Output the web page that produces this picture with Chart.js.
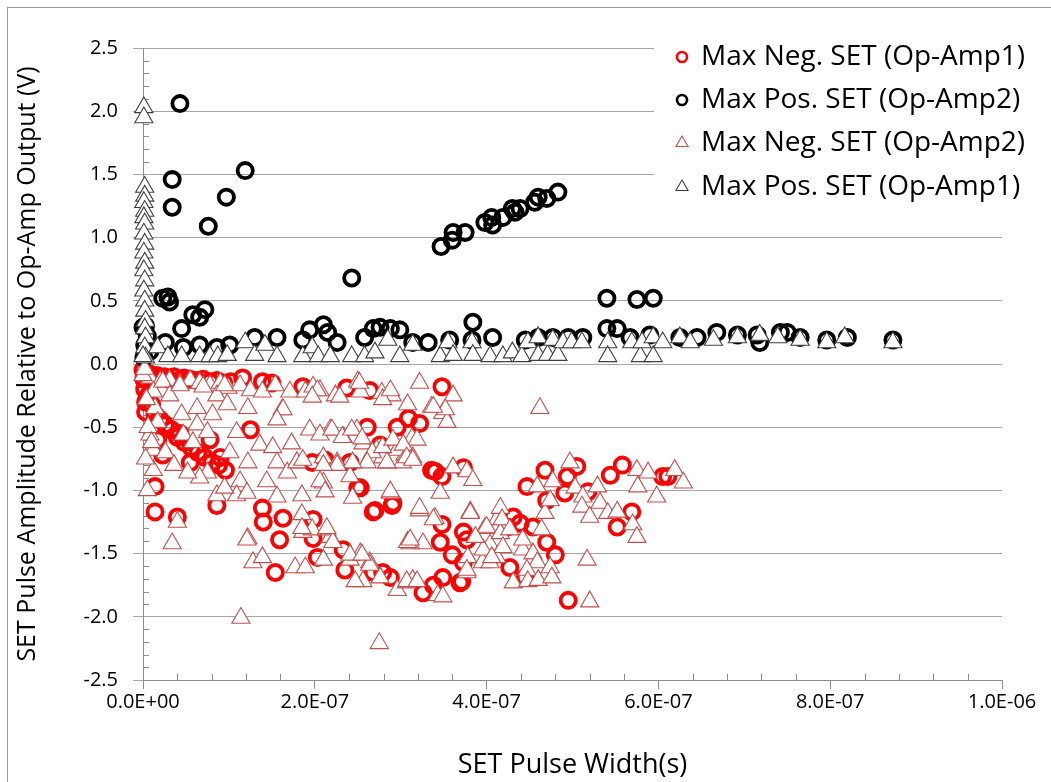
<!DOCTYPE html>
<html>
<head>
<meta charset="utf-8">
<script src="https://cdn.jsdelivr.net/npm/chart.js@4.4.1/dist/chart.umd.min.js"></script>
<style>
  html, body { margin: 0; padding: 0; background: #fff; }
  #wrap { position: relative; width: 1051px; height: 782px; overflow: hidden; }
</style>
</head>
<body>
<div id="wrap"><canvas id="setChart" width="1051" height="782"></canvas></div>
<script>
// Valores (x en ns, y en V)
const negAmp1X = [0, 1, 2, 3, 5, 8, 12, 16, 20, 25, 30, 36, 42, 48, 55, 62, 70, 78, 86, 94, 102,
  3, 6, 10, 14, 20, 26, 33, 40, 48, 56, 64, 72, 80, 88, 96,
  14, 14, 40, 17, 23, 86, 139, 140, 159, 163, 125, 55, 78, 90, 116, 139, 150, 186, 43,
  237, 264, 154, 198, 198, 203, 233, 235, 253, 268, 291, 261, 296, 309, 322, 279, 288, 326, 336, 197, 212, 241,
  348, 276, 348, 373, 250, 270, 290, 338, 349, 369, 348, 346, 360, 373, 377, 373, 268,
  340, 371, 427, 445, 480, 470, 431, 424, 447, 468, 494, 505, 491, 470, 518, 544, 558, 569, 552, 605, 611, 495, 454, 439];
const negAmp1Y = [-0.05, -0.12, -0.2, -0.3, -0.1, -0.08, -0.12, -0.09, -0.11, -0.1, -0.12, -0.1, -0.13, -0.11, -0.12, -0.13, -0.12, -0.14, -0.13, -0.15, -0.14,
  -0.38, -0.25, -0.32, -0.4, -0.44, -0.48, -0.52, -0.58, -0.62, -0.66, -0.7, -0.74, -0.78, -0.8, -0.84,
  -0.97, -1.17, -1.21, -0.6, -0.72, -1.12, -1.14, -1.25, -1.39, -1.22, -0.52, -0.78, -0.6, -0.74, -0.11, -0.14, -0.15, -0.18, -0.55,
  -0.19, -0.21, -1.65, -1.23, -1.38, -1.53, -1.47, -1.63, -0.98, -1.17, -1.1, -0.5, -0.5, -0.43, -0.47, -1.65, -1.69, -1.81, -0.84, -0.78, -0.76, -0.78,
  -0.18, -0.64, -0.89, -0.82, -0.98, -1.16, -1.12, -1.75, -1.69, -1.73, -1.27, -1.41, -1.51, -1.33, -1.39, -1.57, -1.65,
  -0.85, -1.72, -1.61, -1.69, -1.51, -1.41, -1.21, -1.29, -0.97, -0.84, -0.89, -0.81, -1.02, -1.08, -1.01, -0.88, -0.8, -1.17, -1.29, -0.89, -0.89, -1.87, -1.29, -1.26];

const posAmp2X = [43, 34, 34, 76, 97, 119, 347, 360, 361, 375, 398, 406, 407, 419, 430, 433, 439, 456, 460, 470, 483,
  540, 575, 594, 384, 243, 23, 29, 31, 58, 66, 72, 45, 26, 47, 66, 86, 101, 130, 156, 186, 194, 210, 215, 226,
  258, 268, 276, 288, 299, 314, 332, 357, 383, 407, 445, 460, 477, 495, 512, 540, 552, 567, 590, 625, 645,
  668, 692, 715, 718, 742, 750, 765, 796, 820, 873, 3, 5, 2, 8, 1, 0];
const posAmp2Y = [2.06, 1.46, 1.24, 1.09, 1.32, 1.53, 0.93, 0.98, 1.04, 1.04, 1.12, 1.16, 1.1, 1.16, 1.23, 1.2, 1.23, 1.28, 1.32, 1.31, 1.36,
  0.52, 0.51, 0.52, 0.33, 0.68, 0.52, 0.53, 0.49, 0.39, 0.37, 0.43, 0.28, 0.17, 0.13, 0.15, 0.13, 0.15, 0.21, 0.21, 0.19, 0.27, 0.31, 0.25, 0.17,
  0.21, 0.28, 0.29, 0.28, 0.27, 0.17, 0.17, 0.19, 0.19, 0.21, 0.19, 0.21, 0.21, 0.21, 0.21, 0.28, 0.28, 0.21, 0.23, 0.21, 0.21,
  0.25, 0.23, 0.23, 0.17, 0.25, 0.25, 0.21, 0.19, 0.21, 0.19, 0.3, 0.22, 0.15, 0.1, 0.05, 0.29];

const negAmp2X = [8, 20, 31, 43, 55, 66, 78, 90, 99, 113, 125, 139, 154, 171, 189, 206, 224, 198, 250, 253, 278, 290, 322, 361,
  336, 349, 354, 308, 352, 338, 313, 462, 203, 197, 229, 279, 288, 252,
  0, 12, 14, 17, 8, 12, 12, 23, 31, 43, 45, 47, 63, 63, 70, 75, 81, 86, 95, 98, 101, 109, 122, 122, 136, 151, 156, 162, 173, 179,
  185, 168, 113, 109, 86, 95, 121, 40, 34, 122, 75, 156, 144, 66, 185, 186,
  121, 128, 139, 177, 114, 275, 210, 218, 214, 197, 241, 253, 264, 276, 296, 307, 314, 326, 311, 322, 288, 305, 284, 272, 241, 226, 210,
  194, 218, 233, 249, 179, 163, 156, 210, 186, 256, 264, 279, 296, 302, 314, 319,
  206, 220, 232, 243, 255, 267, 279, 291, 303, 307, 314, 284, 261, 244, 226, 210, 206, 212, 244, 288, 322, 340, 308, 346, 361, 377, 384,
  381, 398, 412, 404, 395, 412, 378, 377, 343, 307, 319, 256, 247, 264, 241, 255, 221, 214, 185, 189,
  338, 311, 381, 400, 416, 416, 396, 404, 419, 442, 454, 459, 447, 474, 431, 448, 460, 476, 464, 468, 474, 459, 477, 497, 503, 512,
  529, 532, 511, 520, 541, 552, 570, 575, 575, 588, 576, 598, 619, 629, 517, 520, 349, 377, 406, 387, 418, 427, 442,
  2, 4, 6, 10, 3, 5, 26, 36, 52, 58];
const negAmp2Y = [-0.11, -0.14, -0.13, -0.16, -0.13, -0.15, -0.17, -0.15, -0.19, -0.17, -0.21, -0.22, -0.17, -0.22, -0.22, -0.21, -0.25, -0.18, -0.14, -0.22, -0.23, -0.25, -0.15, -0.25,
  -0.34, -0.39, -0.46, -0.32, -0.36, -0.34, -0.59, -0.35, -0.21, -0.26, -0.26, -0.28, -0.21, -0.15,
  -0.09, -0.22, -0.35, -0.46, -0.56, -0.68, -0.84, -0.14, -0.25, -0.17, -0.4, -0.56, -0.35, -0.48, -0.18, -0.54, -0.4, -0.25, -0.17, -0.32, -0.7, -0.54, -0.35, -0.78, -0.64, -0.66, -0.78, -0.36, -0.63, -0.78,
  -1.04, -0.86, -0.93, -1.04, -1.04, -0.98, -1.02, -1.25, -1.42, -1.38, -0.86, -1.05, -0.93, -0.9, -1.19, -1.33,
  -1.39, -1.57, -1.53, -1.61, -2.01, -2.21, -1.55, -1.37, -1.31, -1.31, -1.55, -1.5, -1.57, -1.69, -1.79, -1.73, -1.71, -1.42, -1.42, -1.16, -1.02, -0.72, -0.78, -0.68, -0.89, -0.78, -0.74,
  -0.52, -0.52, -0.58, -0.52, -0.78, -0.36, -0.44, -0.94, -0.76, -0.63, -0.74, -0.74, -0.68, -0.78, -0.74, -0.6,
  -0.56, -0.52, -0.58, -0.52, -0.59, -0.7, -0.66, -0.6, -0.64, -0.74, -0.76, -0.78, -0.78, -0.78, -0.8, -0.8, -0.93, -1.01, -1.06, -1.01, -1.14, -1.22, -1.41, -1.02, -0.82, -0.85, -0.92,
  -1.17, -1.3, -1.23, -1.43, -1.57, -1.53, -1.53, -1.65, -1.83, -1.72, -1.72, -1.72, -1.72, -1.59, -1.51, -1.51, -1.41, -1.3, -1.3, -1.61,
  -1.23, -1.39, -1.18, -1.29, -1.14, -1.34, -1.47, -1.57, -1.45, -1.47, -1.5, -1.57, -1.63, -1.61, -1.73, -1.72, -1.71, -1.69, -1.31, -1.18, -1.08, -0.97, -0.93, -0.78, -0.98, -1.05,
  -0.97, -1.1, -1.13, -1.21, -1.18, -1.17, -1.27, -1.37, -0.84, -0.86, -0.97, -1.05, -0.84, -0.94, -1.55, -1.88, -1.84, -1.63, -1.53, -1.37, -1.23, -1.31, -1.39,
  -0.04, -0.28, -0.5, -0.62, -0.75, -1.0, -0.7, -0.8, -0.86, -0.62];

const posAmp1X = [1, 1, 2, 2, 1, 2, 1, 2, 1, 2, 1, 2, 1, 2, 1, 2, 2, 3, 2, 3, 2, 3,
  0, 17, 29, 45, 66, 78, 87, 98, 119, 130, 142, 156, 186, 197, 204, 218, 243, 258, 270, 285, 299, 314,
  346, 355, 361, 383, 384, 404, 419, 430, 441, 448, 460, 460, 471, 477, 483, 489, 499, 511, 541, 541,
  569, 579, 581, 594, 594, 605, 625, 637, 664, 692, 718, 739, 765, 796, 817, 873];
const posAmp1Y = [2.03, 1.95, 1.4, 1.33, 1.28, 1.21, 1.16, 1.11, 1.03, 0.95, 0.88, 0.8, 0.74, 0.66, 0.58, 0.5, 0.42, 0.34, 0.28, 0.21, 0.13, 0.05,
  0.06, 0.13, 0.06, 0.06, 0.06, 0.06, 0.06, 0.07, 0.17, 0.07, 0.15, 0.06, 0.06, 0.13, 0.06, 0.06, 0.06, 0.06, 0.09, 0.19, 0.06, 0.15,
  0.06, 0.17, 0.07, 0.17, 0.07, 0.06, 0.06, 0.09, 0.06, 0.17, 0.21, 0.07, 0.07, 0.19, 0.07, 0.17, 0.17, 0.17, 0.17, 0.06,
  0.17, 0.06, 0.17, 0.21, 0.06, 0.17, 0.21, 0.17, 0.19, 0.21, 0.23, 0.21, 0.19, 0.17, 0.21, 0.17];

const seriesNames = ['Max Neg. SET (Op-Amp1)', 'Max Pos. SET (Op-Amp2)', 'Max Neg. SET (Op-Amp2)', 'Max Pos. SET (Op-Amp1)'];
const yTicks = [-2.5, -2.0, -1.5, -1.0, -0.5, 0.0, 0.5, 1.0, 1.5, 2.0, 2.5];
const xTicksNs = [0, 200, 400, 600, 800, 1000];

const FONT = "'Open Sans', 'DejaVu Sans', sans-serif";
const RED = '#ff0000';
const TRI_RED = '#c0504d';
const TRI_GRAY = '#404040';

function pts(xs, ys) {
  return xs.map((x, i) => ({ x: x, y: ys[i] }));
}

// formato 2.0E-07
function fmtSci(ns) {
  if (ns === 0) return '0.0E+00';
  const v = ns * 1e-9;
  const e = Math.floor(Math.log10(v) + 1e-9);
  const m = v / Math.pow(10, e);
  return m.toFixed(1) + 'E' + (e < 0 ? '-' : '+') + String(Math.abs(e)).padStart(2, '0');
}

// marcas menores, borde exterior y leyenda
const extras = {
  id: 'extras',
  beforeDatasetsDraw(chart) {
    const ctx = chart.ctx;
    const xs = chart.scales.x, ys = chart.scales.y;
    const area = chart.chartArea;
    ctx.save();
    ctx.strokeStyle = '#8c8c8c';
    ctx.lineWidth = 1;
    ctx.beginPath();
    for (let i = -25; i <= 25; i++) {
      if (i % 5 === 0) continue;
      const py = Math.round(ys.getPixelForValue(i / 10)) + 0.5;
      ctx.moveTo(area.left, py);
      ctx.lineTo(area.left + 6, py);
    }
    for (let v = 40; v < 1000; v += 40) {
      if (v % 200 === 0) continue;
      const px = Math.round(xs.getPixelForValue(v)) + 0.5;
      ctx.moveTo(px, area.bottom);
      ctx.lineTo(px, area.bottom - 6);
    }
    ctx.stroke();
    // fondo blanco de la leyenda
    ctx.fillStyle = '#fff';
    ctx.fillRect(654, 30, 392, 180);
    ctx.restore();
  },
  afterDraw(chart) {
    const ctx = chart.ctx;
    ctx.save();
    ctx.strokeStyle = '#9a9a9a';
    ctx.lineWidth = 1;
    ctx.strokeRect(7.5, 7.5, 1060, 800);

    const rows = [57, 100, 143, 187];
    const mx = 682;
    ctx.font = '28px ' + FONT;
    ctx.textBaseline = 'middle';
    ctx.textAlign = 'left';
    rows.forEach((ry, i) => {
      ctx.beginPath();
      if (i < 2) {
        ctx.arc(mx, ry, 5, 0, Math.PI * 2);
        ctx.strokeStyle = i === 0 ? RED : '#000';
        ctx.lineWidth = 2.6;
        ctx.stroke();
      } else {
        const r = 7;
        ctx.moveTo(mx, ry - r);
        ctx.lineTo(mx + r * 0.866, ry + r * 0.5);
        ctx.lineTo(mx - r * 0.866, ry + r * 0.5);
        ctx.closePath();
        ctx.strokeStyle = i === 2 ? TRI_RED : TRI_GRAY;
        ctx.lineWidth = 1.1;
        ctx.stroke();
      }
      ctx.fillStyle = '#000';
      ctx.fillText(seriesNames[i], 701, ry);
    });
    ctx.restore();
  }
};

const ctx = document.getElementById('setChart').getContext('2d');
new Chart(ctx, {
  type: 'scatter',
  data: {
    datasets: [
      {
        label: seriesNames[3],
        data: pts(posAmp1X, posAmp1Y),
        pointStyle: 'triangle',
        pointRadius: 10.5,
        borderColor: TRI_GRAY,
        backgroundColor: '#fff',
        borderWidth: 1.1,
        clip: false
      },
      {
        label: seriesNames[2],
        data: pts(negAmp2X, negAmp2Y),
        pointStyle: 'triangle',
        pointRadius: 10.5,
        borderColor: TRI_RED,
        backgroundColor: '#fff',
        borderWidth: 1.1,
        clip: false
      },
      {
        label: seriesNames[1],
        data: pts(posAmp2X, posAmp2Y),
        pointStyle: 'circle',
        pointRadius: 7.6,
        borderColor: '#000',
        backgroundColor: 'rgba(255,255,255,0)',
        borderWidth: 3.8,
        clip: false
      },
      {
        label: seriesNames[0],
        data: pts(negAmp1X, negAmp1Y),
        pointStyle: 'circle',
        pointRadius: 7.6,
        borderColor: RED,
        backgroundColor: 'rgba(255,255,255,0)',
        borderWidth: 3.8,
        clip: false
      }
    ]
  },
  options: {
    responsive: false,
    animation: false,
    devicePixelRatio: 1,
    layout: { padding: { top: 48, right: 49, bottom: 0, left: 0 } },
    plugins: {
      legend: { display: false },
      tooltip: { enabled: false }
    },
    scales: {
      x: {
        type: 'linear',
        min: 0,
        max: 1000,
        afterFit: (scale) => { scale.height = 102; },
        afterBuildTicks: (scale) => { scale.ticks = xTicksNs.map(v => ({ value: v })); },
        ticks: {
          callback: (v) => fmtSci(v),
          font: { family: FONT, size: 20 },
          color: '#000',
          padding: 1,
          maxRotation: 0,
          autoSkip: false
        },
        grid: { drawOnChartArea: false, drawTicks: true, tickLength: 9, color: '#8c8c8c' },
        border: { display: true, color: '#8c8c8c' },
        title: {
          display: true,
          text: 'SET Pulse Width(s)',
          font: { family: FONT, size: 27 },
          color: '#000',
          padding: { top: 0, bottom: 0 }
        }
      },
      y: {
        min: -2.5,
        max: 2.5,
        afterFit: (scale) => { scale.width = 143; },
        afterBuildTicks: (scale) => { scale.ticks = yTicks.map(v => ({ value: v })); },
        ticks: {
          callback: (v) => v.toFixed(1),
          font: { family: FONT, size: 20 },
          color: '#000',
          padding: 15
        },
        grid: { color: '#a6a6a6', tickLength: 10, lineWidth: 1 },
        border: { display: true, color: '#8c8c8c' },
        title: {
          display: true,
          text: 'SET Pulse Amplitude Relative to Op-Amp Output (V)',
          font: { family: FONT, size: 25 },
          color: '#000',
          padding: { top: 13, bottom: 0 }
        }
      }
    }
  },
  plugins: [extras]
});
</script>
</body>
</html>
